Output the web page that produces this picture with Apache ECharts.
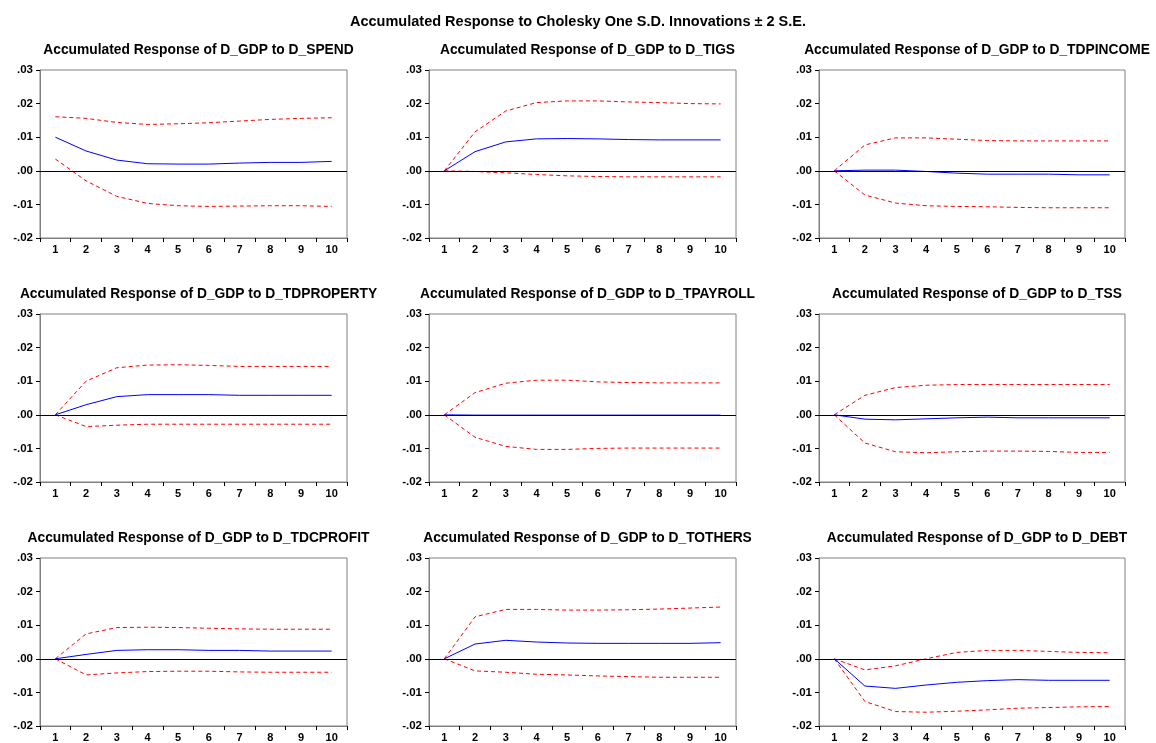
<!DOCTYPE html>
<html>
<head>
<meta charset="utf-8">
<script src="https://cdn.jsdelivr.net/npm/echarts@6/dist/echarts.min.js"></script>
<style>
html,body{margin:0;padding:0;background:#fff;}
#c{width:1156px;height:743px;}
</style>
</head>
<body>
<div id="c"></div>
<script>
const periods = ['1','2','3','4','5','6','7','8','9','10'];
const mainTitle = 'Accumulated Response to Cholesky One S.D. Innovations \u00B1 2 S.E.';
const panelTitles = [
  'Accumulated Response of D_GDP to D_SPEND',
  'Accumulated Response of D_GDP to D_TIGS',
  'Accumulated Response of D_GDP to D_TDPINCOME',
  'Accumulated Response of D_GDP to D_TDPROPERTY',
  'Accumulated Response of D_GDP to D_TPAYROLL',
  'Accumulated Response of D_GDP to D_TSS',
  'Accumulated Response of D_GDP to D_TDCPROFIT',
  'Accumulated Response of D_GDP to D_TOTHERS',
  'Accumulated Response of D_GDP to D_DEBT'
];
const yTicks = [-0.02, -0.01, 0, 0.01, 0.02, 0.03];

// response (blue), upper band, lower band
const spendResp  = [0.0100, 0.0059, 0.0032, 0.0021, 0.0020, 0.0020, 0.0023, 0.0025, 0.0025, 0.0028];
const spendUp    = [0.0161, 0.0156, 0.0144, 0.0138, 0.0140, 0.0143, 0.0148, 0.0153, 0.0156, 0.0158];
const spendLo    = [0.0035, -0.0030, -0.0076, -0.0097, -0.0104, -0.0106, -0.0105, -0.0104, -0.0104, -0.0106];

const tigsResp   = [0, 0.0057, 0.0086, 0.0095, 0.0096, 0.0095, 0.0093, 0.0092, 0.0092, 0.0092];
const tigsUp     = [0, 0.0116, 0.0178, 0.0203, 0.0208, 0.0208, 0.0205, 0.0203, 0.0200, 0.0199];
const tigsLo     = [0, -0.0002, -0.0006, -0.0011, -0.0015, -0.0017, -0.0018, -0.0018, -0.0018, -0.0018];

const incResp    = [0, 0.0002, 0.0002, -0.0002, -0.0007, -0.0010, -0.0010, -0.0010, -0.0012, -0.0012];
const incUp      = [0, 0.0077, 0.0098, 0.0098, 0.0094, 0.0090, 0.0089, 0.0089, 0.0089, 0.0089];
const incLo      = [0, -0.0072, -0.0096, -0.0104, -0.0106, -0.0107, -0.0109, -0.0110, -0.0110, -0.0110];

const propResp   = [0, 0.0030, 0.0054, 0.0060, 0.0060, 0.0060, 0.0058, 0.0058, 0.0058, 0.0058];
const propUp     = [0, 0.0100, 0.0140, 0.0148, 0.0149, 0.0147, 0.0144, 0.0144, 0.0144, 0.0144];
const propLo     = [0, -0.0035, -0.0031, -0.0028, -0.0028, -0.0028, -0.0028, -0.0028, -0.0028, -0.0028];

const payResp    = [0, -0.0001, -0.0001, -0.0001, -0.0001, -0.0001, -0.0001, -0.0001, -0.0001, -0.0001];
const payUp      = [0, 0.0066, 0.0094, 0.0103, 0.0103, 0.0098, 0.0096, 0.0095, 0.0095, 0.0095];
const payLo      = [0, -0.0067, -0.0094, -0.0103, -0.0103, -0.0100, -0.0099, -0.0099, -0.0099, -0.0099];

const tssResp    = [0, -0.0013, -0.0015, -0.0012, -0.0009, -0.0007, -0.0009, -0.0009, -0.0009, -0.0009];
const tssUp      = [0, 0.0058, 0.0081, 0.0088, 0.0090, 0.0090, 0.0090, 0.0090, 0.0090, 0.0090];
const tssLo      = [0, -0.0084, -0.0110, -0.0113, -0.0110, -0.0108, -0.0108, -0.0109, -0.0112, -0.0112];

const profResp   = [0, 0.0013, 0.0025, 0.0027, 0.0027, 0.0025, 0.0025, 0.0023, 0.0023, 0.0023];
const profUp     = [0, 0.0074, 0.0093, 0.0094, 0.0093, 0.0091, 0.0089, 0.0088, 0.0088, 0.0088];
const profLo     = [0, -0.0048, -0.0042, -0.0038, -0.0037, -0.0037, -0.0039, -0.0040, -0.0040, -0.0040];

const othResp    = [0, 0.0044, 0.0055, 0.0050, 0.0047, 0.0046, 0.0046, 0.0046, 0.0046, 0.0048];
const othUp      = [0, 0.0125, 0.0147, 0.0147, 0.0145, 0.0145, 0.0146, 0.0148, 0.0151, 0.0154];
const othLo      = [0, -0.0036, -0.0040, -0.0046, -0.0048, -0.0051, -0.0053, -0.0055, -0.0055, -0.0055];

const debtResp   = [0, -0.0081, -0.0088, -0.0078, -0.0070, -0.0065, -0.0062, -0.0064, -0.0064, -0.0064];
const debtUp     = [0, -0.0033, -0.0021, 0.0000, 0.0019, 0.0025, 0.0025, 0.0022, 0.0019, 0.0018];
const debtLo     = [0, -0.0127, -0.0157, -0.0159, -0.0156, -0.0152, -0.0147, -0.0145, -0.0143, -0.0142];

const panels = [
  [spendResp, spendUp, spendLo],
  [tigsResp, tigsUp, tigsLo],
  [incResp, incUp, incLo],
  [propResp, propUp, propLo],
  [payResp, payUp, payLo],
  [tssResp, tssUp, tssLo],
  [profResp, profUp, profLo],
  [othResp, othUp, othLo],
  [debtResp, debtUp, debtLo]
];

const colLeft = [40, 429, 819];
const colWidth = [307, 307, 306];
const rowTop = [70, 314, 558];
const plotH = 168;
const FONT = '"Liberation Sans", Arial, sans-serif';

function fmtY(v) {
  const n = Math.round(v * 100);
  if (n === 0) return '.00';
  const s = (Math.abs(n) / 100).toFixed(2).replace('0.', '.');
  return (n < 0 ? '-' : '') + s;
}

const grids = [], xAxes = [], yAxes = [], series = [], titles = [];
titles.push({
  text: mainTitle, left: 'center', top: 9,
  textStyle: {fontFamily: FONT, fontSize: 14.5, fontWeight: 'bold', color: '#000'}
});

panels.forEach((p, i) => {
  const r = Math.floor(i / 3), c = i % 3;
  grids.push({
    left: colLeft[c], top: rowTop[r], width: colWidth[c], height: plotH,
    show: true, borderColor: '#808080', borderWidth: 1, backgroundColor: '#fff'
  });
  titles.push({
    text: panelTitles[i],
    left: colLeft[c] + colWidth[c] / 2, top: rowTop[r] - 32, textAlign: 'center',
    textStyle: {fontFamily: FONT, fontSize: 13.8, fontWeight: 'bold', color: '#000'}
  });
  xAxes.push({
    type: 'category', gridIndex: i, data: periods, boundaryGap: true,
    axisLine: {show: true, onZero: false, lineStyle: {color: '#808080', width: 1}},
    axisTick: {show: true, inside: false, length: 4, alignWithLabel: false, lineStyle: {color: '#000'}},
    axisLabel: {fontFamily: FONT, fontSize: 11, fontWeight: 'bold', color: '#000', margin: 6},
    splitLine: {show: false}
  });
  yAxes.push({
    type: 'value', gridIndex: i, min: yTicks[0], max: yTicks[yTicks.length - 1], interval: 0.01,
    axisLine: {show: true, lineStyle: {color: '#808080', width: 1}},
    axisTick: {show: true, inside: false, length: 4, lineStyle: {color: '#000'}},
    axisLabel: {fontFamily: FONT, fontSize: 11.5, fontWeight: 'bold', color: '#000', margin: 7, formatter: fmtY},
    splitLine: {show: false}
  });
  const common = {type: 'line', xAxisIndex: i, yAxisIndex: i, symbol: 'none', silent: true, animation: false};
  series.push(Object.assign({}, common, {
    name: 'upper' + i, data: p[1], z: 3,
    lineStyle: {color: '#ff0000', width: 1, type: [4, 3]}
  }));
  series.push(Object.assign({}, common, {
    name: 'lower' + i, data: p[2], z: 3,
    lineStyle: {color: '#ff0000', width: 1, type: [4, 3]}
  }));
  series.push(Object.assign({}, common, {
    name: 'resp' + i, data: p[0], z: 4,
    lineStyle: {color: '#0000ff', width: 1},
    markLine: {
      silent: true, symbol: ['none', 'none'], label: {show: false}, animation: false,
      lineStyle: {color: '#000', width: 1, type: 'solid'},
      data: [{yAxis: 0}]
    }
  }));
});

const chart = echarts.init(document.getElementById('c'), null, {renderer: 'canvas'});
chart.setOption({
  backgroundColor: '#fff',
  animation: false,
  title: titles,
  grid: grids,
  xAxis: xAxes,
  yAxis: yAxes,
  series: series
});
</script>
</body>
</html>
